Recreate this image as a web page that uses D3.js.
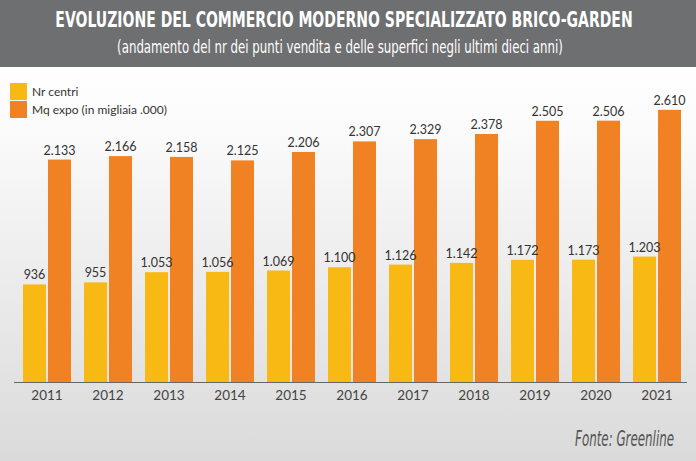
<!DOCTYPE html>
<html><head><meta charset="utf-8">
<script src="https://cdn.jsdelivr.net/npm/d3@7"></script>
<style>html,body{margin:0;padding:0;background:#fff;}svg{display:block;}</style>
</head><body>
<svg id="c" width="696" height="461"></svg>
<script>
const years = ["2011","2012","2013","2014","2015","2016","2017","2018","2019","2020","2021"];
const nrCentri = [936,955,1053,1056,1069,1100,1126,1142,1172,1173,1203];
const mqExpo = [2133,2166,2158,2125,2206,2307,2329,2378,2505,2506,2610];
const seriesNames = ["Nr centri","Mq expo (in migliaia .000)"];
const seriesColors = ["#f9b914","#f08223"];
const title = "EVOLUZIONE DEL COMMERCIO MODERNO SPECIALIZZATO BRICO-GARDEN";
const subtitle = "(andamento del nr dei punti vendita e delle superfici negli ultimi dieci anni)";
const source = "Fonte: Greenline";

const svg = d3.select("#c");
const defs = svg.append("defs");
const grad = defs.append("linearGradient").attr("id","bg").attr("x1",0).attr("y1",0).attr("x2",0).attr("y2",1);
grad.append("stop").attr("offset","0%").attr("stop-color","#ffffff");
grad.append("stop").attr("offset","15%").attr("stop-color","#fbfbfb");
grad.append("stop").attr("offset","100%").attr("stop-color","#dadada");
svg.append("rect").attr("x",0).attr("y",67).attr("width",696).attr("height",394).attr("fill","url(#bg)");

// text fitted horizontally to a target width via a scaleX transform
function fitted(anchorX, yPos, anchor, targetW, attrs, str){
  const g = svg.append("g");
  const t = g.append("text").attr("x",0).attr("y",0).attr("text-anchor",anchor);
  Object.entries(attrs).forEach(([k,v])=>t.attr(k,v));
  t.text(str);
  const w = t.node().getComputedTextLength();
  const s = targetW / w;
  g.attr("transform",`translate(${anchorX},${yPos}) scale(${s},1)`);
  return g;
}

// header
svg.append("rect").attr("x",0).attr("y",0).attr("width",696).attr("height",67).attr("fill","#6e6f71");
fitted(344, 27, "middle", 578, {"font-family":"'Liberation Sans Narrow','DejaVu Sans Condensed',sans-serif","font-weight":"bold","font-size":22,"fill":"#ffffff"}, title);
fitted(340, 53, "middle", 446, {"font-family":"'Liberation Sans Narrow','DejaVu Sans Condensed',sans-serif","font-size":18,"fill":"#ffffff"}, subtitle);

// scales
const x0 = d3.scaleBand().domain(years).range([16.5,687.5]).paddingInner(13/61).paddingOuter(6.5/61);
const x1 = d3.scaleBand().domain([0,1]).range([0,x0.bandwidth()]).paddingInner(0.08);
const y = d3.scaleLinear().domain([0,2800]).range([382,90]);

const data = years.map((yr,i)=>({year:yr, vals:[nrCentri[i], mqExpo[i]]}));
const g = svg.append("g");
const grp = g.selectAll("g.grp").data(data).join("g").attr("class","grp")
  .attr("transform",d=>`translate(${x0(d.year)},0)`);
grp.selectAll("rect").data(d=>d.vals.map((v,k)=>({v,k}))).join("rect")
  .attr("x",d=>x1(d.k)).attr("width",x1.bandwidth())
  .attr("y",d=>y(d.v)).attr("height",d=>y(0)-y(d.v))
  .attr("fill",d=>seriesColors[d.k]);
const fmt = v => d3.format(",")(v).replace(/,/g,".");
grp.selectAll("text").data(d=>d.vals.map((v,k)=>({v,k}))).join("text")
  .attr("x",d=>x1(d.k)+x1.bandwidth()/2).attr("y",d=>y(d.v)-5)
  .attr("text-anchor","middle").attr("font-family","Lato,sans-serif").attr("font-size",12.5)
  .attr("fill","#333").text(d=>fmt(d.v));

// axis
const ax = svg.append("g").attr("transform","translate(0,382)")
  .call(d3.axisBottom(x0).tickSize(0).tickPadding(8));
ax.select(".domain").attr("stroke","#666").attr("d","M14,0.5H687");
ax.selectAll("text").attr("font-family","Lato,sans-serif").attr("font-size",13.5).attr("fill","#444");

// legend
const leg = svg.append("g");
seriesNames.forEach((n,i)=>{
  leg.append("rect").attr("x",10).attr("y",83+i*18).attr("width",17).attr("height",17).attr("fill",seriesColors[i]);
  leg.append("text").attr("x",32).attr("y",96+i*18).attr("font-family","Lato,sans-serif").attr("font-size",12)
    .attr("fill","#333").text(n);
});

// source
fitted(674, 446, "end", 99, {"font-family":"'Liberation Sans Narrow','DejaVu Sans Condensed',sans-serif","font-style":"italic","font-size":21,"fill":"#555"}, source);
</script>
</body></html>
